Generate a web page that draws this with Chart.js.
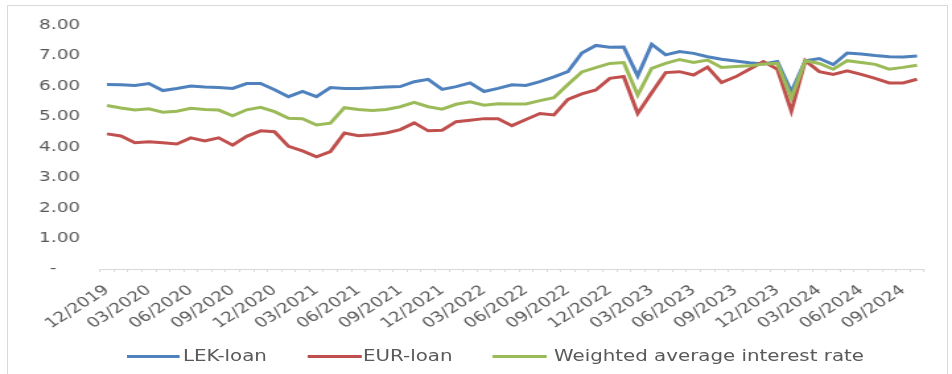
<!DOCTYPE html>
<html>
<head>
<meta charset="utf-8">
<script src="https://cdn.jsdelivr.net/npm/chart.js@4/dist/chart.umd.min.js"></script>
<style>
  body { margin: 0; background: #fff; overflow: hidden; font-family: "DejaVu Sans", sans-serif; }
  #frame { position: absolute; left: 7px; top: 5px; width: 939px; height: 400px; border: 1px solid #d9d9d9; }
  #wrap { position: absolute; left: 0; top: 0; width: 721px; height: 374px; transform: scaleX(1.3204); transform-origin: 0 0; }
  #legend span { position: absolute; }
  .sw { height: 3px; top: 355px; }
  .lb { top: 347px; line-height: 18px; font-size: 15px; color: #595959; white-space: nowrap; }
</style>
</head>
<body>
<div id="frame"></div>
<div id="wrap">
  <canvas id="grafica" width="721" height="374"></canvas>
  <div id="legend"></div>
</div>
<script>
// categorias mensuales 12/2019 - 10/2024
const meses = [
  "12/2019","01/2020","02/2020","03/2020","04/2020","05/2020","06/2020","07/2020","08/2020","09/2020","10/2020","11/2020",
  "12/2020","01/2021","02/2021","03/2021","04/2021","05/2021","06/2021","07/2021","08/2021","09/2021","10/2021","11/2021",
  "12/2021","01/2022","02/2022","03/2022","04/2022","05/2022","06/2022","07/2022","08/2022","09/2022","10/2022","11/2022",
  "12/2022","01/2023","02/2023","03/2023","04/2023","05/2023","06/2023","07/2023","08/2023","09/2023","10/2023","11/2023",
  "12/2023","01/2024","02/2024","03/2024","04/2024","05/2024","06/2024","07/2024","08/2024","09/2024","10/2024"
];

const lekLoan = [
  6.05, 6.04, 6.02, 6.08, 5.85, 5.92, 6.00, 5.97, 5.95, 5.92, 6.08, 6.08,
  5.88, 5.65, 5.82, 5.65, 5.95, 5.92, 5.92, 5.94, 5.97, 5.98, 6.14, 6.22,
  5.89, 5.98, 6.10, 5.82, 5.92, 6.04, 6.02, 6.14, 6.30, 6.47, 7.08, 7.33,
  7.27, 7.28, 6.33, 7.37, 7.02, 7.13, 7.07, 6.96, 6.88, 6.82, 6.76, 6.72,
  6.80, 5.80, 6.83, 6.90, 6.70, 7.08, 7.05, 7.00, 6.96, 6.95, 6.98
];

const eurLoan = [
  4.43, 4.36, 4.14, 4.17, 4.14, 4.10, 4.30, 4.20, 4.30, 4.06, 4.35, 4.53,
  4.50, 4.02, 3.87, 3.68, 3.85, 4.46, 4.37, 4.40, 4.46, 4.57, 4.79, 4.53,
  4.55, 4.83, 4.88, 4.93, 4.93, 4.70, 4.90, 5.10, 5.05, 5.56, 5.74, 5.87,
  6.25, 6.31, 5.10, 5.78, 6.44, 6.47, 6.36, 6.62, 6.11, 6.30, 6.55, 6.80,
  6.55, 5.18, 6.83, 6.47, 6.38, 6.50, 6.38, 6.25, 6.10, 6.10, 6.22
];

const weighted = [
  5.36, 5.28, 5.21, 5.25, 5.14, 5.17, 5.27, 5.23, 5.21, 5.02, 5.22, 5.30,
  5.16, 4.94, 4.93, 4.72, 4.78, 5.29, 5.23, 5.20, 5.23, 5.32, 5.46, 5.32,
  5.24, 5.40, 5.48, 5.37, 5.42, 5.41, 5.41, 5.52, 5.62, 6.05, 6.46, 6.60,
  6.74, 6.77, 5.70, 6.58, 6.74, 6.87, 6.77, 6.85, 6.61, 6.64, 6.66, 6.72,
  6.74, 5.60, 6.83, 6.74, 6.55, 6.83, 6.77, 6.71, 6.55, 6.61, 6.68
];

const nombres = ["LEK-loan", "EUR-loan", "Weighted average interest rate"];
const colores = ["#4f81bd", "#c0504d", "#9bbb59"];
const yTicks = [0, 1, 2, 3, 4, 5, 6, 7, 8];

const series = [lekLoan, eurLoan, weighted];
const datasets = series.map((s, i) => ({
  label: nombres[i],
  data: s,
  borderColor: colores[i],
  backgroundColor: colores[i],
  borderWidth: 3,
  pointRadius: 0,
  tension: 0,
  order: 3 - i
}));

new Chart(document.getElementById("grafica"), {
  type: "line",
  data: { labels: meses, datasets: datasets },
  options: {
    responsive: false,
    animation: false,
    layout: { padding: { left: 0, right: 21.2, top: 25, bottom: 0 } },
    plugins: { legend: { display: false }, tooltip: { enabled: false } },
    scales: {
      x: {
        type: "category",
        offset: true,
        grid: { drawOnChartArea: false, drawTicks: true, tickLength: 3, color: "#d9d9d9", offset: true },
        border: { display: true, color: "#d9d9d9", width: 1 },
        ticks: {
          autoSkip: false,
          minRotation: 40,
          maxRotation: 40,
          padding: 10,
          color: "#595959",
          font: { family: "DejaVu Sans", size: 14 },
          callback: function (v, i) { return i % 3 === 0 ? meses[i] : ""; }
        },
        afterFit: function (scale) { scale.height = 105; }
      },
      y: {
        min: yTicks[0],
        max: yTicks[yTicks.length - 1],
        afterBuildTicks: function (scale) { scale.ticks = yTicks.map(v => ({ value: v })); },
        grid: { display: false, drawTicks: false },
        border: { display: false },
        ticks: {
          padding: 15,
          color: "#595959",
          font: { family: "DejaVu Sans", size: 14 },
          callback: function (v) { return v === 0 ? "-    " : v.toFixed(2); }
        },
        afterFit: function (scale) { scale.width = 75.7; }
      }
    }
  }
});

// leyenda
const legend = document.getElementById("legend");
const posLinea = [[95.5, 40.5], [232.5, 41.5], [373.4, 41]];
const posTexto = [138.6, 275, 419.6];
nombres.forEach((n, i) => {
  const sw = document.createElement("span");
  sw.className = "sw";
  sw.style.left = posLinea[i][0] + "px";
  sw.style.width = posLinea[i][1] + "px";
  sw.style.background = colores[i];
  legend.append(sw);
  const lb = document.createElement("span");
  lb.className = "lb";
  lb.style.left = posTexto[i] + "px";
  lb.textContent = n;
  legend.append(lb);
});
</script>
</body>
</html>
